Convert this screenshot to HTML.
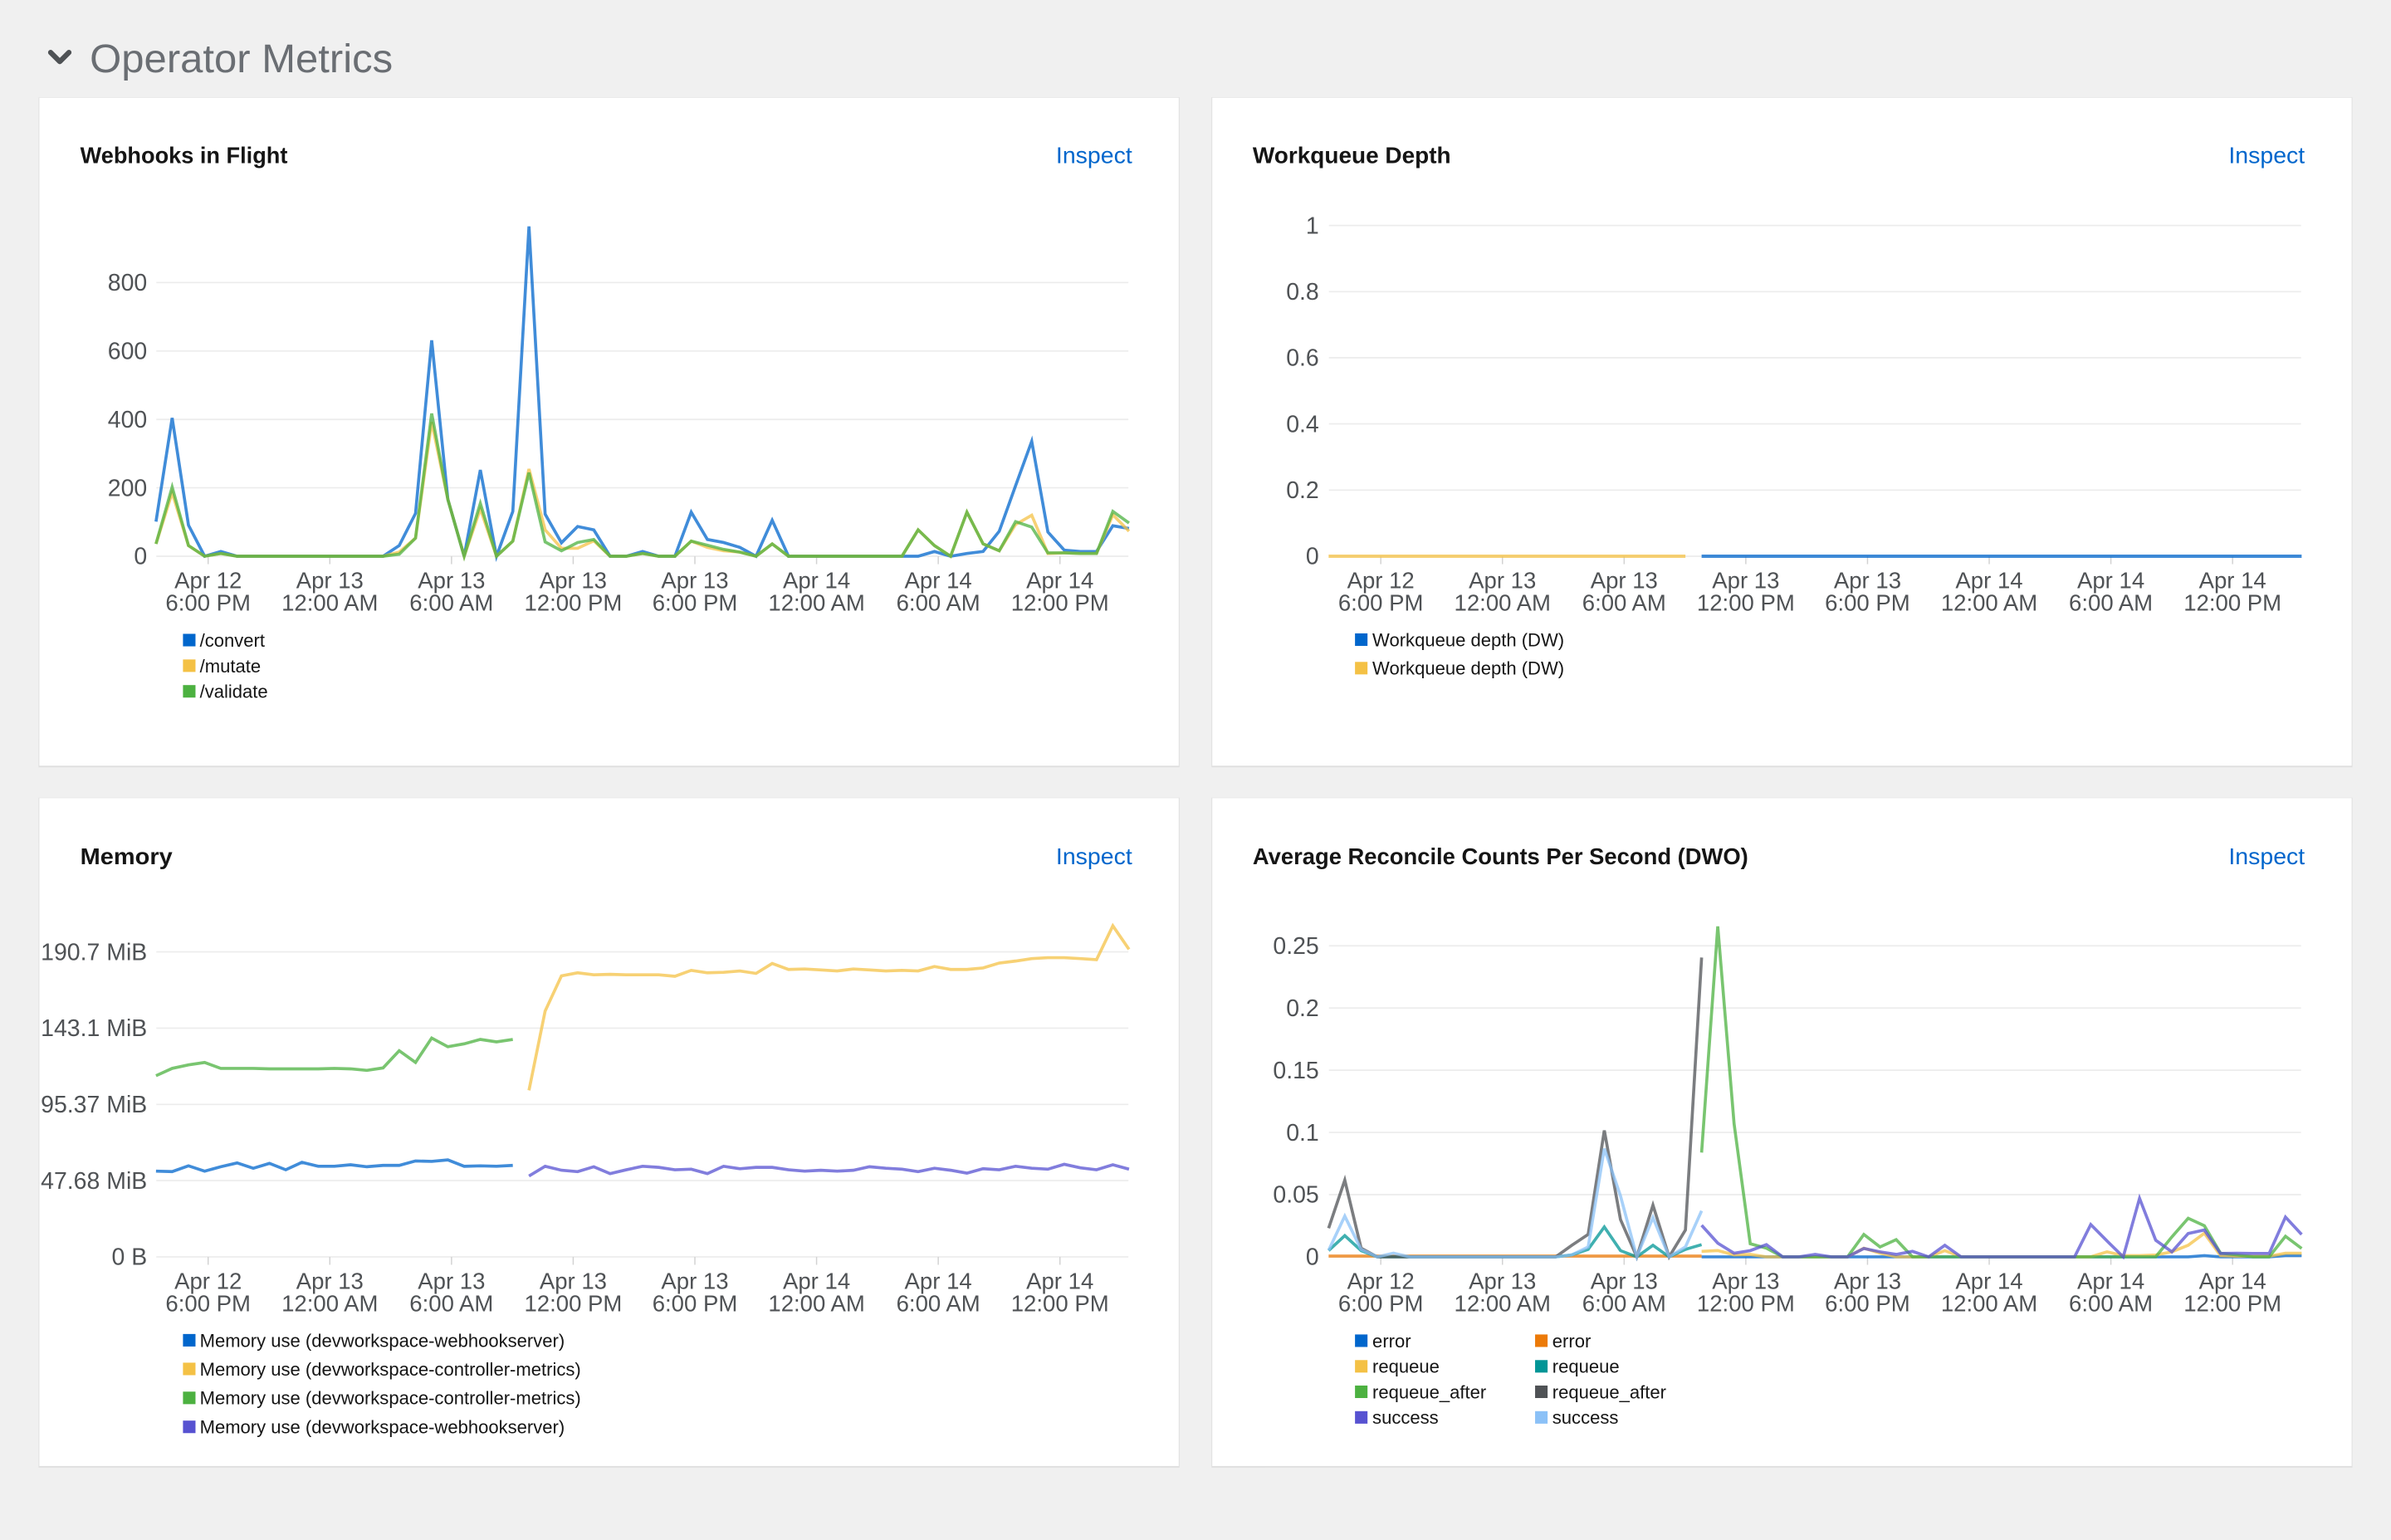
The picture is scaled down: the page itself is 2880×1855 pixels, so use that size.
<!DOCTYPE html>
<html>
<head>
<meta charset="utf-8">
<style>
  html, body { margin:0; padding:0; background:#f0f0f0; }
  body { width:2880px; height:1855px; overflow:hidden; }
  svg { display:block; }
  .t { font-family:"Liberation Sans", Arial, sans-serif; }
</style>
</head>
<body>
<svg width="2880" height="1855" viewBox="0 0 1568 1010" preserveAspectRatio="none" xmlns="http://www.w3.org/2000/svg" class="t" font-family="Liberation Sans, Arial, sans-serif">
  <rect x="0" y="0" width="1568" height="1010" fill="#f0f0f0"/>

  <!-- Header -->
  <polyline points="33.2,34.4 39.2,40.4 45.2,34.4" fill="none" stroke="#4f5255" stroke-width="3.4" stroke-linecap="round" stroke-linejoin="round"/>
  <text x="58.9" y="47.5" font-size="26" fill="#6a6e73" textLength="198.7" lengthAdjust="spacingAndGlyphs">Operator Metrics</text>

  <!-- Card shadows -->
  <g fill="#000" opacity="0.07">
    <rect x="25.3" y="63.8" width="748.2" height="439.4"/>
    <rect x="794.5" y="63.8" width="748.2" height="439.4"/>
    <rect x="25.3" y="523.1" width="748.2" height="439.4"/>
    <rect x="794.5" y="523.1" width="748.2" height="439.4"/>
  </g>
  <!-- Cards -->
  <g fill="#ffffff">
    <rect x="25.8" y="64.1" width="747.2" height="438.1"/>
    <rect x="795" y="64.1" width="747.2" height="438.1"/>
    <rect x="25.8" y="523.4" width="747.2" height="438.1"/>
    <rect x="795" y="523.4" width="747.2" height="438.1"/>
  </g>

  <!-- Titles -->
  <g font-weight="bold" font-size="15" fill="#151515">
    <text x="52.6" y="107.1" textLength="136" lengthAdjust="spacingAndGlyphs">Webhooks in Flight</text>
    <text x="821.5" y="107.1" textLength="130" lengthAdjust="spacingAndGlyphs">Workqueue Depth</text>
    <text x="52.6" y="566.8" textLength="60.5" lengthAdjust="spacingAndGlyphs">Memory</text>
    <text x="821.5" y="566.8" textLength="325" lengthAdjust="spacingAndGlyphs">Average Reconcile Counts Per Second (DWO)</text>
  </g>
  <g font-size="15" fill="#0066cc" text-anchor="end">
    <text x="742.5" y="107.1" textLength="50" lengthAdjust="spacingAndGlyphs">Inspect</text>
    <text x="1511.5" y="107.1" textLength="50" lengthAdjust="spacingAndGlyphs">Inspect</text>
    <text x="742.5" y="566.8" textLength="50" lengthAdjust="spacingAndGlyphs">Inspect</text>
    <text x="1511.5" y="566.8" textLength="50" lengthAdjust="spacingAndGlyphs">Inspect</text>
  </g>

  <!-- Grid lines -->
  <g stroke="#ececec" stroke-width="0.9">
    <!-- chart 1 -->
    <line x1="102.5" y1="185.3" x2="740" y2="185.3"/>
    <line x1="102.5" y1="230.2" x2="740" y2="230.2"/>
    <line x1="102.5" y1="275.1" x2="740" y2="275.1"/>
    <line x1="102.5" y1="319.9" x2="740" y2="319.9"/>
    <line x1="102.5" y1="364.8" x2="740" y2="364.8"/>
    <!-- chart 2 -->
    <line x1="871.5" y1="147.9" x2="1509" y2="147.9"/>
    <line x1="871.5" y1="191.3" x2="1509" y2="191.3"/>
    <line x1="871.5" y1="234.6" x2="1509" y2="234.6"/>
    <line x1="871.5" y1="278.0" x2="1509" y2="278.0"/>
    <line x1="871.5" y1="321.4" x2="1509" y2="321.4"/>
    <line x1="871.5" y1="364.8" x2="1509" y2="364.8"/>
    <!-- chart 3 -->
    <line x1="102.5" y1="624.3" x2="740" y2="624.3"/>
    <line x1="102.5" y1="674.3" x2="740" y2="674.3"/>
    <line x1="102.5" y1="724.3" x2="740" y2="724.3"/>
    <line x1="102.5" y1="774.3" x2="740" y2="774.3"/>
    <line x1="102.5" y1="824.3" x2="740" y2="824.3"/>
    <!-- chart 4 -->
    <line x1="871.5" y1="620.3" x2="1509" y2="620.3"/>
    <line x1="871.5" y1="661.1" x2="1509" y2="661.1"/>
    <line x1="871.5" y1="701.9" x2="1509" y2="701.9"/>
    <line x1="871.5" y1="742.7" x2="1509" y2="742.7"/>
    <line x1="871.5" y1="783.5" x2="1509" y2="783.5"/>
    <line x1="871.5" y1="824.3" x2="1509" y2="824.3"/>
  </g>

  <!-- Tick marks -->
  <g stroke="#d2d2d2" stroke-width="0.8">
    <line x1="136.5" y1="364.8" x2="136.5" y2="370"/><line x1="216.3" y1="364.8" x2="216.3" y2="370"/><line x1="296.1" y1="364.8" x2="296.1" y2="370"/><line x1="375.9" y1="364.8" x2="375.9" y2="370"/><line x1="455.7" y1="364.8" x2="455.7" y2="370"/><line x1="535.5" y1="364.8" x2="535.5" y2="370"/><line x1="615.3" y1="364.8" x2="615.3" y2="370"/><line x1="695.1" y1="364.8" x2="695.1" y2="370"/>
    <line x1="905.5" y1="364.8" x2="905.5" y2="370"/><line x1="985.3" y1="364.8" x2="985.3" y2="370"/><line x1="1065.1" y1="364.8" x2="1065.1" y2="370"/><line x1="1144.9" y1="364.8" x2="1144.9" y2="370"/><line x1="1224.7" y1="364.8" x2="1224.7" y2="370"/><line x1="1304.5" y1="364.8" x2="1304.5" y2="370"/><line x1="1384.3" y1="364.8" x2="1384.3" y2="370"/><line x1="1464.1" y1="364.8" x2="1464.1" y2="370"/>
    <line x1="136.5" y1="824.3" x2="136.5" y2="829.5"/><line x1="216.3" y1="824.3" x2="216.3" y2="829.5"/><line x1="296.1" y1="824.3" x2="296.1" y2="829.5"/><line x1="375.9" y1="824.3" x2="375.9" y2="829.5"/><line x1="455.7" y1="824.3" x2="455.7" y2="829.5"/><line x1="535.5" y1="824.3" x2="535.5" y2="829.5"/><line x1="615.3" y1="824.3" x2="615.3" y2="829.5"/><line x1="695.1" y1="824.3" x2="695.1" y2="829.5"/>
    <line x1="905.5" y1="824.3" x2="905.5" y2="829.5"/><line x1="985.3" y1="824.3" x2="985.3" y2="829.5"/><line x1="1065.1" y1="824.3" x2="1065.1" y2="829.5"/><line x1="1144.9" y1="824.3" x2="1144.9" y2="829.5"/><line x1="1224.7" y1="824.3" x2="1224.7" y2="829.5"/><line x1="1304.5" y1="824.3" x2="1304.5" y2="829.5"/><line x1="1384.3" y1="824.3" x2="1384.3" y2="829.5"/><line x1="1464.1" y1="824.3" x2="1464.1" y2="829.5"/>
  </g>

  <!-- Y labels -->
  <g font-size="15.5" fill="#4f5255" text-anchor="end">
    <text x="96.5" y="190.6">800</text>
    <text x="96.5" y="235.5">600</text>
    <text x="96.5" y="280.4">400</text>
    <text x="96.5" y="325.2">200</text>
    <text x="96.5" y="370.1">0</text>

    <text x="865" y="153.2">1</text>
    <text x="865" y="196.6">0.8</text>
    <text x="865" y="239.9">0.6</text>
    <text x="865" y="283.3">0.4</text>
    <text x="865" y="326.7">0.2</text>
    <text x="865" y="370.1">0</text>

    <text x="96.5" y="629.6">190.7 MiB</text>
    <text x="96.5" y="679.6">143.1 MiB</text>
    <text x="96.5" y="729.6">95.37 MiB</text>
    <text x="96.5" y="779.6">47.68 MiB</text>
    <text x="96.5" y="829.6">0 B</text>

    <text x="865" y="625.6">0.25</text>
    <text x="865" y="666.4">0.2</text>
    <text x="865" y="707.2">0.15</text>
    <text x="865" y="748.0">0.1</text>
    <text x="865" y="788.8">0.05</text>
    <text x="865" y="829.6">0</text>
  </g>

  <!-- X labels -->
  <g font-size="15" fill="#4f5255" text-anchor="middle">
    <g id="xl1">
      <text x="136.5" y="385.8">Apr 12</text><text x="136.5" y="400.4">6:00 PM</text>
      <text x="216.3" y="385.8">Apr 13</text><text x="216.3" y="400.4">12:00 AM</text>
      <text x="296.1" y="385.8">Apr 13</text><text x="296.1" y="400.4">6:00 AM</text>
      <text x="375.9" y="385.8">Apr 13</text><text x="375.9" y="400.4">12:00 PM</text>
      <text x="455.7" y="385.8">Apr 13</text><text x="455.7" y="400.4">6:00 PM</text>
      <text x="535.5" y="385.8">Apr 14</text><text x="535.5" y="400.4">12:00 AM</text>
      <text x="615.3" y="385.8">Apr 14</text><text x="615.3" y="400.4">6:00 AM</text>
      <text x="695.1" y="385.8">Apr 14</text><text x="695.1" y="400.4">12:00 PM</text>
    </g>
    <g>
      <text x="905.5" y="385.8">Apr 12</text><text x="905.5" y="400.4">6:00 PM</text>
      <text x="985.3" y="385.8">Apr 13</text><text x="985.3" y="400.4">12:00 AM</text>
      <text x="1065.1" y="385.8">Apr 13</text><text x="1065.1" y="400.4">6:00 AM</text>
      <text x="1144.9" y="385.8">Apr 13</text><text x="1144.9" y="400.4">12:00 PM</text>
      <text x="1224.7" y="385.8">Apr 13</text><text x="1224.7" y="400.4">6:00 PM</text>
      <text x="1304.5" y="385.8">Apr 14</text><text x="1304.5" y="400.4">12:00 AM</text>
      <text x="1384.3" y="385.8">Apr 14</text><text x="1384.3" y="400.4">6:00 AM</text>
      <text x="1464.1" y="385.8">Apr 14</text><text x="1464.1" y="400.4">12:00 PM</text>
    </g>
    <g>
      <text x="136.5" y="845.3">Apr 12</text><text x="136.5" y="859.9">6:00 PM</text>
      <text x="216.3" y="845.3">Apr 13</text><text x="216.3" y="859.9">12:00 AM</text>
      <text x="296.1" y="845.3">Apr 13</text><text x="296.1" y="859.9">6:00 AM</text>
      <text x="375.9" y="845.3">Apr 13</text><text x="375.9" y="859.9">12:00 PM</text>
      <text x="455.7" y="845.3">Apr 13</text><text x="455.7" y="859.9">6:00 PM</text>
      <text x="535.5" y="845.3">Apr 14</text><text x="535.5" y="859.9">12:00 AM</text>
      <text x="615.3" y="845.3">Apr 14</text><text x="615.3" y="859.9">6:00 AM</text>
      <text x="695.1" y="845.3">Apr 14</text><text x="695.1" y="859.9">12:00 PM</text>
    </g>
    <g>
      <text x="905.5" y="845.3">Apr 12</text><text x="905.5" y="859.9">6:00 PM</text>
      <text x="985.3" y="845.3">Apr 13</text><text x="985.3" y="859.9">12:00 AM</text>
      <text x="1065.1" y="845.3">Apr 13</text><text x="1065.1" y="859.9">6:00 AM</text>
      <text x="1144.9" y="845.3">Apr 13</text><text x="1144.9" y="859.9">12:00 PM</text>
      <text x="1224.7" y="845.3">Apr 13</text><text x="1224.7" y="859.9">6:00 PM</text>
      <text x="1304.5" y="845.3">Apr 14</text><text x="1304.5" y="859.9">12:00 AM</text>
      <text x="1384.3" y="845.3">Apr 14</text><text x="1384.3" y="859.9">6:00 AM</text>
      <text x="1464.1" y="845.3">Apr 14</text><text x="1464.1" y="859.9">12:00 PM</text>
    </g>
  </g>

  <!-- Chart 1 series -->
  <g fill="none" stroke-width="2" stroke-linejoin="miter" stroke-opacity="0.75">
    <polyline stroke="#0066cc" points="102.3,342.1 112.9,274.1 123.6,344.4 134.2,364.8 144.8,361.7 155.5,364.8 166.1,364.8 176.7,364.8 187.4,364.8 198.0,364.8 208.7,364.8 219.3,364.8 229.9,364.8 240.6,364.8 251.2,364.8 261.8,357.8 272.5,336.7 283.1,223.2 293.7,327.5 304.4,364.8 315.0,308.2 325.6,364.8 336.3,335.4 346.9,148.5 357.5,337.2 368.2,356.0 378.8,345.3 389.4,347.5 400.1,364.8 410.7,364.8 421.4,361.7 432.0,364.8 442.6,364.8 453.3,335.9 463.9,353.8 474.5,355.8 485.2,359.0 495.8,364.8 506.4,341.2 517.1,364.8 527.7,364.8 538.3,364.8 549.0,364.8 559.6,364.8 570.2,364.8 580.9,364.8 591.5,364.8 602.1,364.8 612.8,361.7 623.4,364.8 634.1,363.0 644.7,361.7 655.3,348.4 666.0,318.6 676.6,289.4 687.2,348.9 697.9,360.8 708.5,361.7 719.1,361.7 729.8,344.8 740.4,346.6"/>
    <polyline stroke="#f4c145" points="102.3,356.7 112.9,323.1 123.6,357.8 134.2,364.8 144.8,363.0 155.5,364.8 166.1,364.8 176.7,364.8 187.4,364.8 198.0,364.8 208.7,364.8 219.3,364.8 229.9,364.8 240.6,364.8 251.2,364.8 261.8,362.1 272.5,352.9 283.1,276.8 293.7,327.5 304.4,364.8 315.0,333.8 325.6,364.8 336.3,354.9 346.9,307.6 357.5,347.5 368.2,359.6 378.8,359.6 389.4,354.7 400.1,364.8 410.7,364.8 421.4,363.0 432.0,364.8 442.6,364.8 453.3,354.9 463.9,359.0 474.5,361.2 485.2,362.1 495.8,364.8 506.4,356.7 517.1,364.8 527.7,364.8 538.3,364.8 549.0,364.8 559.6,364.8 570.2,364.8 580.9,364.8 591.5,364.8 602.1,347.5 612.8,357.8 623.4,364.8 634.1,335.9 644.7,356.7 655.3,361.2 666.0,344.0 676.6,337.9 687.2,363.0 697.9,362.6 708.5,363.0 719.1,363.0 729.8,337.6 740.4,348.4"/>
    <polyline stroke="#4cb140" points="102.3,356.7 112.9,319.5 123.6,357.8 134.2,364.8 144.8,363.0 155.5,364.8 166.1,364.8 176.7,364.8 187.4,364.8 198.0,364.8 208.7,364.8 219.3,364.8 229.9,364.8 240.6,364.8 251.2,364.8 261.8,363.5 272.5,352.9 283.1,271.2 293.7,327.5 304.4,364.8 315.0,330.2 325.6,364.8 336.3,354.9 346.9,310.0 357.5,355.4 368.2,361.2 378.8,355.8 389.4,353.8 400.1,364.8 410.7,364.8 421.4,363.0 432.0,364.8 442.6,364.8 453.3,354.9 463.9,357.6 474.5,360.3 485.2,362.1 495.8,364.8 506.4,356.7 517.1,364.8 527.7,364.8 538.3,364.8 549.0,364.8 559.6,364.8 570.2,364.8 580.9,364.8 591.5,364.8 602.1,347.5 612.8,357.8 623.4,364.8 634.1,335.9 644.7,356.7 655.3,361.2 666.0,342.1 676.6,345.7 687.2,362.6 697.9,362.6 708.5,363.0 719.1,363.0 729.8,335.4 740.4,343.0"/>
  </g>

  <!-- Chart 2 series -->
  <g fill="none" stroke-width="2.2" stroke-opacity="0.75">
    <line x1="871.3" y1="364.8" x2="1105.3" y2="364.8" stroke="#f4c145"/>
    <line x1="1115.9" y1="364.8" x2="1509.4" y2="364.8" stroke="#0066cc"/>
  </g>

  <!-- Chart 3 series -->
  <g fill="none" stroke-width="2" stroke-opacity="0.75">
    <polyline stroke="#0066cc" points="102.3,768.1 112.9,768.4 123.6,764.6 134.2,768.1 144.8,765.2 155.5,762.7 166.1,766.2 176.7,763.0 187.4,767.2 198.0,762.3 208.7,764.9 219.3,764.9 229.9,763.9 240.6,765.2 251.2,764.3 261.8,764.3 272.5,761.4 283.1,761.7 293.7,760.7 304.4,764.9 315.0,764.6 325.6,764.9 336.3,764.3"/>
    <polyline stroke="#f4c145" points="346.9,715.1 357.5,663.1 368.2,640.0 378.8,638.0 389.4,639.3 400.1,639.0 410.7,639.3 421.4,639.3 432.0,639.3 442.6,640.3 453.3,636.4 463.9,638.0 474.5,637.7 485.2,636.8 495.8,638.4 506.4,631.9 517.1,635.8 527.7,635.5 538.3,636.1 549.0,636.8 559.6,635.5 570.2,636.1 580.9,636.8 591.5,636.4 602.1,636.8 612.8,633.9 623.4,635.8 634.1,635.8 644.7,634.8 655.3,631.6 666.0,630.3 676.6,628.7 687.2,628.1 697.9,628.1 708.5,628.7 719.1,629.4 729.8,607.2 740.4,622.6"/>
    <polyline stroke="#4cb140" points="102.3,705.5 112.9,700.7 123.6,698.4 134.2,696.8 144.8,700.7 155.5,700.7 166.1,700.7 176.7,701.0 187.4,701.0 198.0,701.0 208.7,701.0 219.3,700.7 229.9,701.0 240.6,702.0 251.2,700.4 261.8,689.1 272.5,696.8 283.1,680.8 293.7,686.5 304.4,684.6 315.0,681.7 325.6,683.3 336.3,681.7"/>
    <polyline stroke="#5752d1" points="346.9,771.3 357.5,764.9 368.2,767.5 378.8,768.4 389.4,765.2 400.1,769.7 410.7,767.2 421.4,764.9 432.0,765.6 442.6,767.2 453.3,766.8 463.9,769.7 474.5,764.9 485.2,766.5 495.8,765.6 506.4,765.6 517.1,767.2 527.7,768.1 538.3,767.5 549.0,768.1 559.6,767.5 570.2,765.2 580.9,766.2 591.5,766.8 602.1,768.4 612.8,766.2 623.4,767.5 634.1,769.4 644.7,766.5 655.3,767.2 666.0,764.9 676.6,766.2 687.2,766.8 697.9,763.6 708.5,765.9 719.1,767.2 729.8,763.9 740.4,766.8"/>
  </g>

  <!-- Chart 4 series -->
  <g fill="none" stroke-width="2" stroke-opacity="0.75">
    <polyline stroke="#0066cc" points="1115.9,824.3 1435.0,824.3 1445.6,823.5 1456.2,824.3 1488.1,824.3 1498.8,823.5 1509.4,823.5"/>
    <polyline stroke="#f4c145" points="1115.9,820.7 1126.5,820.2 1137.2,823.0 1147.8,822.7 1158.4,824.3 1211.6,824.3 1222.3,818.6 1232.9,821.9 1243.5,824.3 1264.8,824.3 1275.4,820.2 1286.1,824.3 1371.1,824.3 1381.8,821.0 1392.4,823.5 1403.1,823.5 1413.7,823.1 1424.3,821.0 1435.0,816.7 1445.6,808.8 1456.2,823.5 1466.9,823.9 1488.1,823.9 1498.8,821.9 1509.4,821.9"/>
    <polyline stroke="#4cb140" points="1115.9,755.9 1126.5,607.6 1137.2,737.0 1147.8,815.7 1158.4,818.6 1169.1,824.3 1211.6,824.3 1222.3,809.6 1232.9,817.8 1243.5,813.0 1254.2,824.3 1413.7,824.3 1424.3,811.2 1435.0,799.0 1445.6,803.9 1456.2,821.9 1466.9,823.0 1477.5,824.3 1488.1,824.3 1498.8,810.8 1509.4,818.8"/>
    <polyline stroke="#5752d1" points="1115.9,803.6 1126.5,815.3 1137.2,821.9 1147.8,820.2 1158.4,816.3 1169.1,824.3 1179.7,824.3 1190.4,822.7 1201.0,824.3 1211.6,824.3 1222.3,818.8 1232.9,821.0 1243.5,822.7 1254.2,820.7 1264.8,824.3 1275.4,816.7 1286.1,824.3 1360.5,824.3 1371.1,803.1 1381.8,813.9 1392.4,824.3 1403.1,785.9 1413.7,813.4 1424.3,821.0 1435.0,809.0 1445.6,806.7 1456.2,822.1 1466.9,821.9 1477.5,822.1 1488.1,822.1 1498.8,798.2 1509.4,809.6"/>
    <polyline stroke="#ec7a08" points="871.3,823.8 1115.9,823.8"/>
    <polyline stroke="#009596" points="871.3,820.2 881.9,810.4 892.6,820.2 903.2,824.3 1020.2,824.3 1030.8,823.0 1041.5,819.4 1052.1,804.7 1062.7,820.2 1073.4,824.3 1084.0,816.7 1094.6,824.3 1105.3,819.4 1115.9,816.3"/>
    <polyline stroke="#4f5255" points="871.3,805.5 881.9,774.0 892.6,818.6 903.2,824.3 1020.2,824.3 1030.8,816.7 1041.5,809.6 1052.1,741.4 1062.7,799.8 1073.4,824.3 1084.0,790.4 1094.6,824.3 1105.3,806.7 1115.9,628.0"/>
    <polyline stroke="#8bc1f7" points="871.3,820.0 881.9,797.6 892.6,819.4 903.2,824.3 913.8,821.9 924.5,824.3 1020.2,824.3 1030.8,823.0 1041.5,817.8 1052.1,753.3 1062.7,784.3 1073.4,824.3 1084.0,798.5 1094.6,824.3 1105.3,817.8 1115.9,794.1"/>
  </g>

  <!-- Legends -->
  <g font-size="12" fill="#151515">
    <!-- chart 1 -->
    <rect x="120" y="415.7" width="8.2" height="8.2" fill="#0066cc"/><text x="131" y="424.1">/convert</text>
    <rect x="120" y="432.5" width="8.2" height="8.2" fill="#f4c145"/><text x="131" y="440.9">/mutate</text>
    <rect x="120" y="449.3" width="8.2" height="8.2" fill="#4cb140"/><text x="131" y="457.7">/validate</text>
    <!-- chart 2 -->
    <rect x="888.6" y="415.4" width="8.2" height="8.2" fill="#0066cc"/><text x="900" y="423.8">Workqueue depth (DW)</text>
    <rect x="888.6" y="434.1" width="8.2" height="8.2" fill="#f4c145"/><text x="900" y="442.5">Workqueue depth (DW)</text>
    <!-- chart 3 -->
    <rect x="120" y="874.9" width="8.2" height="8.2" fill="#0066cc"/><text x="131" y="883.3">Memory use (devworkspace-webhookserver)</text>
    <rect x="120" y="893.7" width="8.2" height="8.2" fill="#f4c145"/><text x="131" y="902.1">Memory use (devworkspace-controller-metrics)</text>
    <rect x="120" y="912.7" width="8.2" height="8.2" fill="#4cb140"/><text x="131" y="921.1">Memory use (devworkspace-controller-metrics)</text>
    <rect x="120" y="931.7" width="8.2" height="8.2" fill="#5752d1"/><text x="131" y="940.1">Memory use (devworkspace-webhookserver)</text>
    <!-- chart 4 -->
    <rect x="888.6" y="875.2" width="8.2" height="8.2" fill="#0066cc"/><text x="900" y="883.6">error</text>
    <rect x="888.6" y="892.0" width="8.2" height="8.2" fill="#f4c145"/><text x="900" y="900.4">requeue</text>
    <rect x="888.6" y="908.7" width="8.2" height="8.2" fill="#4cb140"/><text x="900" y="917.1">requeue_after</text>
    <rect x="888.6" y="925.5" width="8.2" height="8.2" fill="#5752d1"/><text x="900" y="933.9">success</text>
    <rect x="1006.7" y="875.2" width="8.2" height="8.2" fill="#ec7a08"/><text x="1018" y="883.6">error</text>
    <rect x="1006.7" y="892.0" width="8.2" height="8.2" fill="#009596"/><text x="1018" y="900.4">requeue</text>
    <rect x="1006.7" y="908.7" width="8.2" height="8.2" fill="#4f5255"/><text x="1018" y="917.1">requeue_after</text>
    <rect x="1006.7" y="925.5" width="8.2" height="8.2" fill="#8bc1f7"/><text x="1018" y="933.9">success</text>
  </g>
</svg>
</body>
</html>
